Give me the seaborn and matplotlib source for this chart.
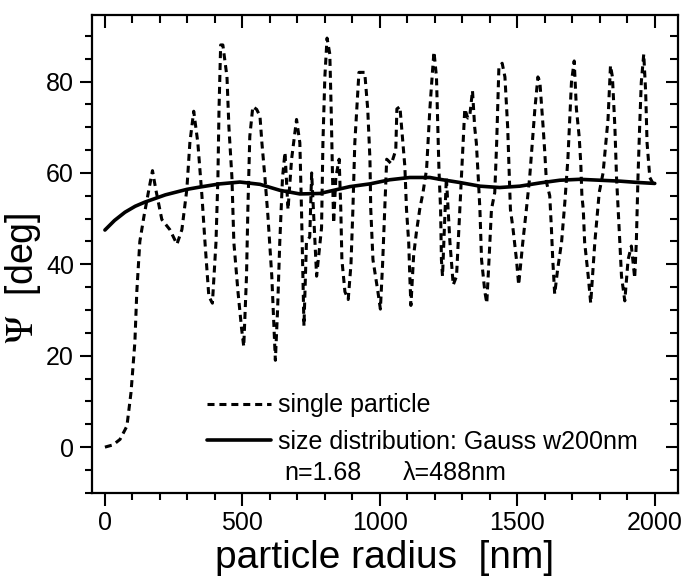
import matplotlib
matplotlib.use('Agg')
import matplotlib.pyplot as plt
import seaborn as sns
from matplotlib.ticker import MultipleLocator, NullFormatter

# single particle curve
x_single = [0, 30, 55, 80, 95, 109, 116, 127, 142, 160, 173, 185, 207, 236, 262, 280, 298, 309, 323, 338,
            353, 364, 378, 391, 404, 411, 415, 421, 429, 444, 451, 462, 469, 484, 497, 505, 515, 520, 527, 538,
            552, 564, 571, 582, 593, 607, 615, 620, 628, 636, 646, 655, 666, 679, 697, 709, 715, 720, 724, 733,
            745, 752, 760, 770, 788, 793, 800, 808, 818, 823, 828, 832, 840, 852, 858, 862, 873, 885, 895, 902,
            909, 924, 945, 956, 964, 967, 975, 993, 1002, 1010, 1018, 1025, 1042, 1058, 1062, 1073, 1084, 1091, 1097, 1105,
            1109, 1113, 1123, 1133, 1145, 1157, 1170, 1182, 1192, 1197, 1206, 1211, 1215, 1221, 1224, 1228, 1242, 1255, 1267, 1279,
            1291, 1300, 1309, 1320, 1327, 1337, 1345, 1351, 1358, 1364, 1370, 1382, 1389, 1398, 1406, 1418, 1425, 1433, 1445, 1455,
            1465, 1469, 1475, 1484, 1497, 1505, 1520, 1533, 1545, 1564, 1575, 1582, 1594, 1600, 1606, 1618, 1624, 1629, 1636, 1647,
            1661, 1673, 1684, 1697, 1707, 1715, 1725, 1731, 1735, 1740, 1745, 1758, 1767, 1782, 1798, 1812, 1830, 1839, 1846, 1855,
            1861, 1867, 1873, 1879, 1891, 1903, 1915, 1927, 1933, 1939, 1945, 1951, 1960, 1967, 1972, 1982, 2000]
y_single = [0, 0.5, 1.7, 4.6, 12, 23, 34, 45, 50.5, 56.4, 60.5, 56.4, 49.8, 47.6, 44.4, 47.6, 56.4, 66.6, 73.5, 66.6,
            54.9, 44.8, 33, 31.5, 44.8, 59, 73.9, 88, 88, 81, 70, 59, 44.8, 34, 26, 22, 37.4, 52, 68, 74.5,
            73.9, 72.4, 66.6, 59, 50.5, 37.4, 26.4, 19, 30, 44.8, 59, 64.5, 52, 63, 71.7, 66.6, 52, 37.4, 26.5, 44.8,
            46, 60, 50, 37.4, 48, 66.6, 81, 89.5, 86, 73.9, 59, 49, 59, 63, 52, 41, 34, 32.3, 40, 52,
            66.6, 82, 82, 73.9, 63, 52, 41, 34, 30.2, 40, 52, 63, 62, 65, 74, 74.5, 66.6, 61.4, 52, 44.8,
            37.4, 31, 42, 47, 52, 55.7, 60.8, 74, 82.6, 86.5, 81, 70, 60.8, 52, 41, 37.4, 59, 44.8, 35.5, 37.4,
            52, 63, 74, 72, 72.4, 78, 70, 66.6, 59, 52, 41, 34, 31.5, 42, 52, 55.7, 66.6, 83, 84, 81,
            70, 63, 52, 48, 41, 35.5, 44.8, 52, 59, 74, 81, 80, 70, 64.5, 58, 55, 48, 41, 33.5, 39,
            44.8, 53.6, 63, 79.8, 84.5, 74, 68, 62, 55, 52, 44.8, 37.4, 31.5, 44.8, 55.7, 60, 71.7, 83.5, 81, 70,
            59, 52, 44.8, 37.4, 32, 41, 44, 37, 44.8, 59, 70, 79.8, 86, 77.6, 66.6, 59, 57]

# size distribution (Gauss w200nm)
x_dist = [0, 35, 73, 110, 145, 220, 298, 345, 418, 491, 564, 636, 709, 782, 818, 891, 964, 1036, 1109, 1182,
          1218, 1291, 1364, 1436, 1509, 1582, 1655, 1727, 1800, 1873, 1940, 2000]
y_dist = [47.5, 49.6, 51.4, 52.7, 53.6, 55.2, 56.4, 56.9, 57.6, 58.0, 57.5, 56.2, 55.4, 55.5, 56.0, 57.0, 57.6, 58.5, 59.0, 59.0,
          58.6, 57.9, 57.1, 56.8, 57.1, 57.8, 58.4, 58.6, 58.4, 58.2, 57.9, 57.7]

sns.set_theme(style='ticks', rc={'axes.edgecolor': 'black', 'xtick.color': 'black', 'ytick.color': 'black',
                                 'text.color': 'black', 'axes.labelcolor': 'black'})
plt.rcParams['font.family'] = ['Liberation Sans', 'DejaVu Sans']
plt.rcParams['mathtext.fontset'] = 'stix'

fig = plt.figure(figsize=(6.84, 5.86), dpi=100)
ax = fig.add_axes([0.1345, 0.159, 0.8565, 0.815])

sns.lineplot(x=x_single, y=y_single, ax=ax, color='black', linewidth=2.2, linestyle=(0, (2.3, 1.6)),
             label='single particle', sort=False, estimator=None)
sns.lineplot(x=x_dist, y=y_dist, ax=ax, color='black', linewidth=2.6,
             label='size distribution: Gauss w200nm', sort=False, estimator=None)

ax.set_xlim(-47, 2084)
ax.set_ylim(-10, 94.5)
ax.xaxis.set_major_locator(MultipleLocator(500))
ax.xaxis.set_minor_locator(MultipleLocator(100))
ax.yaxis.set_major_locator(MultipleLocator(20))
ax.yaxis.set_minor_locator(MultipleLocator(5))
ax.tick_params(which='major', direction='out', length=9, width=1.5, labelsize=18, pad=4)
ax.tick_params(which='minor', direction='out', length=5, width=1.5)
for s in ax.spines.values():
    s.set_linewidth(1.6)

# inward ticks on top and right
top = ax.secondary_xaxis('top')
top.xaxis.set_major_locator(MultipleLocator(500))
top.xaxis.set_minor_locator(MultipleLocator(100))
top.xaxis.set_major_formatter(NullFormatter())
top.tick_params(which='major', direction='in', length=9, width=1.5)
top.tick_params(which='minor', direction='in', length=6, width=1.5)
right = ax.secondary_yaxis('right')
right.yaxis.set_major_locator(MultipleLocator(20))
right.yaxis.set_minor_locator(MultipleLocator(5))
right.yaxis.set_major_formatter(NullFormatter())
right.tick_params(which='major', direction='in', length=9, width=1.5)
right.tick_params(which='minor', direction='in', length=6, width=1.5)

ax.set_xlabel('particle radius  [nm]', fontsize=28, labelpad=4)
ax.set_ylabel(r'$\Psi$  [deg]', fontsize=27)
ax.yaxis.set_label_coords(-0.084, 0.45)

ax.legend(loc='center left', bbox_to_anchor=(0.196, 0.145), frameon=False, fontsize=18,
          handlelength=2.55, handletextpad=0.28, labelspacing=0.5, borderpad=0, borderaxespad=0)
ax.text(0.329, 0.042, 'n=1.68', transform=ax.transAxes, fontsize=18, va='center')
ax.text(0.530, 0.042, 'λ=488nm', transform=ax.transAxes, fontsize=18, va='center')

fig.savefig('out.png', dpi=100)
